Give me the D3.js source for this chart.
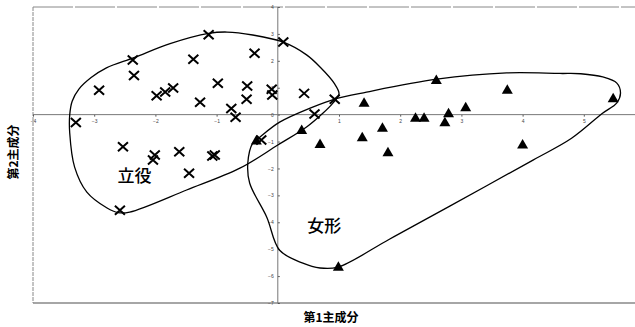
<!DOCTYPE html>
<html>
<head>
<meta charset="utf-8">
<script src="https://cdnjs.cloudflare.com/ajax/libs/d3/7.8.5/d3.min.js"></script>
<style>
  body { margin: 0; background: #fff; }
  svg { display: block; }
</style>
</head>
<body>
<div id="chart"></div>
<script>
// tick values for both axes
var xTicks = [-4, -3, -2, -1, 1, 2, 3, 4, 5];
var yTicks = [4, 3, 2, 1, 0, -1, -2, -3, -4, -5, -6, -7];

// 立役 (x marks): [PC1, PC2]
var tachiyaku = [
  [-3.30, -0.29], [-2.92, 0.91], [-2.37, 2.03], [-2.35, 1.45], [-1.98, 0.70],
  [-1.84, 0.84], [-1.71, 0.99], [-1.38, 2.06], [-1.27, 0.46], [-1.13, 2.97],
  [-0.98, 1.17], [-0.76, 0.23], [-0.69, -0.10], [-0.51, 0.57], [-0.50, 1.06],
  [-0.38, 2.28], [-0.10, 0.94], [-0.09, 0.73], [0.09, 2.70], [0.43, 0.79],
  [0.60, 0.02], [0.93, 0.57], [-2.53, -1.19], [-2.01, -1.50], [-2.04, -1.69],
  [-1.61, -1.38], [-1.07, -1.54], [-1.03, -1.50], [-1.45, -2.18], [-2.58, -3.55],
  [-0.27, -0.94]
];

// 女形 (triangles): [PC1, PC2]
var onnagata = [
  [2.59, 1.31], [3.75, 0.94], [5.48, 0.63], [1.41, 0.46], [3.07, 0.29],
  [2.79, 0.07], [2.25, -0.10], [2.39, -0.10], [2.73, -0.26], [1.71, -0.47],
  [1.38, -0.82], [0.69, -1.07], [1.80, -1.38], [4.00, -1.09], [0.39, -0.55],
  [-0.35, -0.94], [0.99, -5.63]
];

// hand drawn group outlines, in data units
var tachiyakuLoop = [
  [-3.40, -0.01], [-3.36, 0.50], [-3.25, 0.95], [-3.05, 1.38], [-2.80, 1.74],
  [-2.35, 2.12], [-1.76, 2.64], [-1.13, 3.02], [-0.83, 3.07], [-0.41, 2.96],
  [0.08, 2.70], [0.47, 2.22], [0.69, 1.77], [0.92, 1.17], [1.00, 0.77],
  [0.90, 0.43], [0.74, 0.06], [0.47, -0.46], [0.00, -1.13], [-0.62, -1.99],
  [-1.49, -2.80], [-2.42, -3.62], [-2.61, -3.64], [-2.79, -3.47], [-3.12, -2.88],
  [-3.32, -1.95], [-3.40, -0.68]
];
var onnagataLoop = [
  [-0.41, -1.06], [-0.29, -0.83], [0.03, -0.28], [0.57, 0.28], [0.93, 0.58],
  [1.45, 0.84], [2.60, 1.32], [3.74, 1.55], [4.61, 1.53], [4.95, 1.52],
  [5.31, 1.40], [5.54, 1.17], [5.60, 0.80], [5.54, 0.44], [5.30, 0.04],
  [4.80, -0.88], [4.17, -1.69], [2.81, -3.40], [1.83, -4.62], [0.98, -5.67],
  [0.69, -5.70], [0.41, -5.52], [0.03, -5.04], [-0.18, -3.81], [-0.46, -2.54],
  [-0.49, -1.80]
];

var groupLabels = [
  {text: "立役", pos: [-2.34, -2.28]},
  {text: "女形", pos: [0.76, -4.15]}
];

var width = 635, height = 327;

// set the ranges
var x = d3.scaleLinear().domain([-4, 6]).range([33, 645]);
var y = d3.scaleLinear().domain([-7, 4]).range([303, 7]);

var svg = d3.select("#chart").append("svg")
    .attr("width", width)
    .attr("height", height);

// frame
svg.append("line")
    .attr("x1", x(-4)).attr("x2", x(-4))
    .attr("y1", y(4)).attr("y2", y(-7))
    .style("stroke", "#888")
    .style("stroke-dasharray", "4,1");
svg.append("line")
    .attr("x1", x(-4)).attr("x2", width)
    .attr("y1", y(4)).attr("y2", y(4))
    .style("stroke", "#888")
    .style("stroke-dasharray", "40,2");
svg.append("line")
    .attr("x1", x(-4)).attr("x2", width)
    .attr("y1", y(-7)).attr("y2", y(-7))
    .style("stroke", "#888")
    .style("stroke-width", 1.5);

// axes through the origin
var xAxis = d3.axisBottom(x).tickValues(xTicks).tickSize(2).tickFormat(d3.format("d"));
var yAxis = d3.axisLeft(y).tickValues(yTicks).tickSize(-2).tickFormat(d3.format("d"));

var gx = svg.append("g")
    .attr("transform", "translate(0," + y(0) + ")")
    .call(xAxis);
gx.select(".domain").remove();
svg.append("line")
    .attr("x1", x(-4)).attr("x2", width)
    .attr("y1", y(0)).attr("y2", y(0))
    .style("stroke", "#777");

var gy = svg.append("g")
    .attr("transform", "translate(" + x(0) + ",0)")
    .call(yAxis);
gy.select(".domain").remove();
svg.append("line")
    .attr("x1", x(0)).attr("x2", x(0))
    .attr("y1", y(4)).attr("y2", y(-7))
    .style("stroke", "#777");

[gx, gy].forEach(function(g) {
  g.selectAll(".tick line").style("stroke", "#555");
  g.selectAll(".tick text")
      .style("font-family", "Liberation Sans, Arial, sans-serif")
      .style("font-size", "5px")
      .style("fill", "#444");
});
gx.selectAll(".tick text").attr("y", 5);
gy.selectAll(".tick text").attr("x", -4).attr("text-anchor", "end");

// group outlines
var loop = d3.line()
    .x(function(d) { return x(d[0]); })
    .y(function(d) { return y(d[1]); })
    .curve(d3.curveCatmullRomClosed.alpha(0.5));

svg.selectAll("path.loop")
    .data([tachiyakuLoop, onnagataLoop])
  .enter().append("path")
    .attr("class", "loop")
    .attr("d", loop)
    .style("fill", "none")
    .style("stroke", "#000")
    .style("stroke-width", 1.3);

// x marks
svg.selectAll("path.cross")
    .data(tachiyaku)
  .enter().append("path")
    .attr("class", "cross")
    .attr("transform", function(d) { return "translate(" + x(d[0]) + "," + y(d[1]) + ")"; })
    .attr("d", "M-5,-4.5L5,4.5M5,-4.5L-5,4.5")
    .style("stroke", "#000")
    .style("stroke-width", 2);

// triangles
svg.selectAll("path.tri")
    .data(onnagata)
  .enter().append("path")
    .attr("class", "tri")
    .attr("transform", function(d) { return "translate(" + x(d[0]) + "," + y(d[1]) + ")"; })
    .attr("d", "M0,-5L5.5,4.5L-5.5,4.5Z")
    .style("fill", "#000");

// group names
svg.selectAll("text.group")
    .data(groupLabels)
  .enter().append("text")
    .attr("class", "group")
    .attr("x", function(d) { return x(d.pos[0]); })
    .attr("y", function(d) { return y(d.pos[1]); })
    .attr("text-anchor", "middle")
    .attr("dy", "0.35em")
    .style("font-family", "Noto Sans CJK JP")
    .style("font-size", "17px")
    .style("font-weight", 500)
    .text(function(d) { return d.text; });

// axis titles
svg.append("text")
    .attr("x", 331)
    .attr("y", 322)
    .attr("text-anchor", "middle")
    .style("font-family", "Noto Sans CJK JP")
    .style("font-size", "12px")
    .style("font-weight", "bold")
    .text("第1主成分");

svg.append("text")
    .attr("transform", "translate(18,152) rotate(-90)")
    .attr("text-anchor", "middle")
    .style("font-family", "Noto Sans CJK JP")
    .style("font-size", "12px")
    .style("font-weight", "bold")
    .text("第2主成分");
</script>
</body>
</html>
